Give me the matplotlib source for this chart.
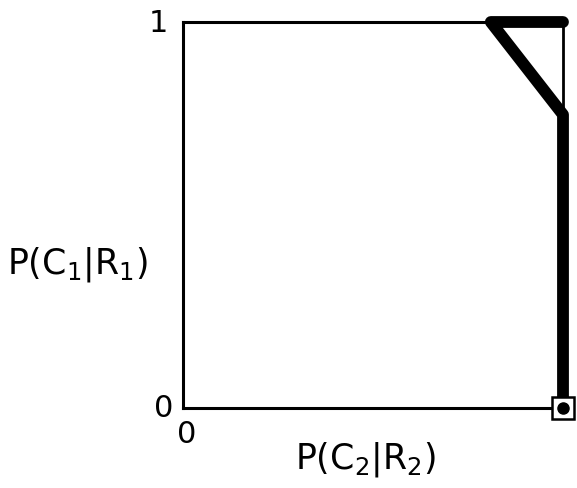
import matplotlib
matplotlib.use("Agg")
import matplotlib.pyplot as plt

# Data: operating path in the unit square
path_x = [1.0, 1.0, 0.81, 1.0]
path_y = [0.0, 0.76, 1.0, 1.0]
edge_x = [1.0, 1.0]
edge_y = [1.0, 0.76]
point_x = [1.0]
point_y = [0.0]
xlabel = "P(C$_2$|R$_2$)"
ylabel = "P(C$_1$|R$_1$)"

fig = plt.figure(figsize=(5.77, 4.89), dpi=100)
W, H = 577, 489
left, right, top, bottom = 183, 563, 23, 409
ax = fig.add_axes([left / W, 1 - bottom / H, (right - left) / W, (bottom - top) / H])
ax.set_xlim(0, 1)
ax.set_ylim(0, 1)
for s in ["left", "bottom", "top"]:
    ax.spines[s].set_linewidth(2.2)
    ax.spines[s].set_color("black")
ax.spines["right"].set_visible(False)
ax.set_xticks([])
ax.set_yticks([])

ax.plot(edge_x, edge_y, color="black", lw=2.0, clip_on=False, zorder=3)
ax.plot(path_x, path_y, color="black", lw=8.5, solid_capstyle="round",
        solid_joinstyle="round", clip_on=False, zorder=4)
ax.plot(point_x, point_y, marker="s", ms=16, mfc="white", mec="black", mew=1.8,
        clip_on=False, zorder=5, linestyle="none")
ax.plot(point_x, point_y, marker="o", ms=8, color="black", clip_on=False, zorder=6,
        linestyle="none")

fs = 22
lfs = 25
ax.text(-0.065, 1.0, "1", transform=ax.transAxes, fontsize=fs, ha="center", va="center")
ax.text(-0.05, 0.0, "0", transform=ax.transAxes, fontsize=fs, ha="center", va="center")
ax.text(0.01, -0.065, "0", transform=ax.transAxes, fontsize=fs, ha="center", va="center")
ax.text(0.48, -0.13, xlabel, transform=ax.transAxes, fontsize=lfs, ha="center", va="center")
fig.text(77 / W, 1 - 265 / H, ylabel, fontsize=lfs, ha="center", va="center")

fig.savefig("out.png", dpi=100, facecolor="white")
